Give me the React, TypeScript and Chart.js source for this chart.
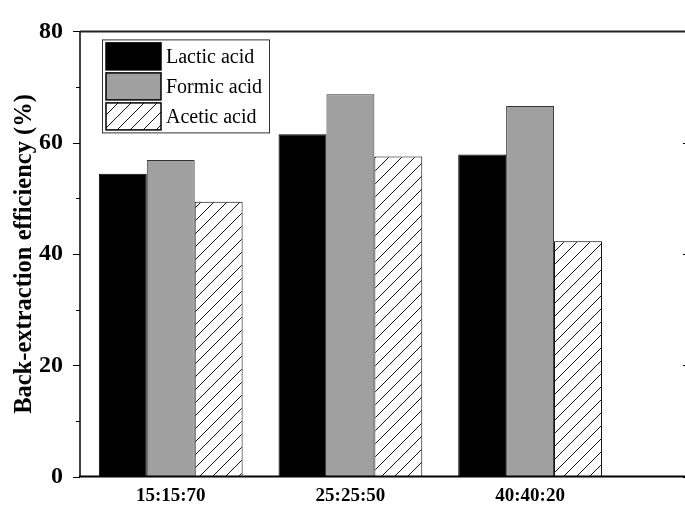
import React, { useEffect, useRef } from "react";
import { Chart, registerables } from "chart.js";

Chart.register(...registerables);

const categories = ["15:15:70", "25:25:50", "40:40:20"];
const categoryPositions = [1, 2, 3];
const seriesNames = ["Lactic acid", "Formic acid", "Acetic acid"];
const lactic = [54.4, 61.5, 57.9];
const formic = [56.9, 68.7, 66.6];
const acetic = [49.4, 57.5, 42.3];
const yMajorTicks = [0, 20, 40, 60, 80];
const yMinorTicks = [10, 30, 50, 70];
const yTitle = "Back-extraction efficiency (%)";

const SERIF = "'Liberation Serif', 'Times New Roman', serif";

function makeHatch(ctx: CanvasRenderingContext2D): CanvasPattern | string {
  const s = 13;
  const c = document.createElement("canvas");
  c.width = s;
  c.height = s;
  const g = c.getContext("2d");
  if (!g) return "#fff";
  g.fillStyle = "#fff";
  g.fillRect(0, 0, s, s);
  g.strokeStyle = "#111";
  g.lineWidth = 1;
  g.beginPath();
  g.moveTo(0, s);
  g.lineTo(s, 0);
  g.moveTo(-2, 2);
  g.lineTo(2, -2);
  g.moveTo(s - 2, s + 2);
  g.lineTo(s + 2, s - 2);
  g.stroke();
  return ctx.createPattern(c, "repeat") || "#fff";
}

const axesPlugin = {
  id: "axesFrame",
  afterDraw(chart: any) {
    const { ctx, chartArea: ca, scales } = chart;
    const y = scales.y;
    ctx.save();
    ctx.strokeStyle = "#000";
    ctx.lineWidth = 1.5;
    ctx.beginPath();
    ctx.moveTo(ca.left, ca.top);
    ctx.lineTo(ca.left, ca.bottom);
    ctx.stroke();
    ctx.beginPath();
    ctx.moveTo(ca.right, ca.top);
    ctx.lineTo(ca.right, ca.bottom);
    ctx.stroke();
    ctx.lineWidth = 1;
    yMajorTicks.forEach((v) => {
      const py = Math.round(y.getPixelForValue(v)) + 0.5;
      ctx.beginPath();
      ctx.moveTo(ca.left - 7, py);
      ctx.lineTo(ca.left, py);
      ctx.moveTo(ca.right - 7, py);
      ctx.lineTo(ca.right, py);
      ctx.stroke();
    });
    yMinorTicks.forEach((v) => {
      const py = Math.round(y.getPixelForValue(v)) + 0.5;
      ctx.beginPath();
      ctx.moveTo(ca.left - 4, py);
      ctx.lineTo(ca.left, py);
      ctx.moveTo(ca.right - 4, py);
      ctx.lineTo(ca.right, py);
      ctx.stroke();
    });
    ctx.strokeStyle = "#222";
    ctx.lineWidth = 2;
    ctx.beginPath();
    ctx.moveTo(ca.left, ca.top);
    ctx.lineTo(ca.right, ca.top);
    ctx.stroke();
    ctx.strokeStyle = "#000";
    ctx.lineWidth = 2;
    ctx.beginPath();
    ctx.moveTo(ca.left - 1, ca.bottom);
    ctx.lineTo(ca.right, ca.bottom);
    ctx.stroke();
    ctx.restore();
  },
};

const legendPlugin = {
  id: "insideLegend",
  afterDraw(chart: any) {
    const { ctx, chartArea: ca } = chart;
    const bx = ca.left + 22.5;
    const by = ca.top + 8.5;
    const bw = 167;
    const bh = 93;
    ctx.save();
    ctx.fillStyle = "#fff";
    ctx.fillRect(bx, by, bw, bh);
    ctx.strokeStyle = "#333";
    ctx.lineWidth = 1;
    ctx.strokeRect(bx, by, bw, bh);
    chart.data.datasets.forEach((ds: any, i: number) => {
      const sx = bx + 3.5;
      const sy = by + 3 + i * 30;
      const sw = 55;
      const sh = 27;
      ctx.fillStyle = ds.backgroundColor;
      ctx.fillRect(sx, sy, sw, sh);
      ctx.strokeStyle = "#000";
      ctx.lineWidth = 1.5;
      ctx.strokeRect(sx, sy, sw, sh);
      ctx.fillStyle = "#000";
      ctx.font = `20px ${SERIF}`;
      ctx.textBaseline = "middle";
      ctx.textAlign = "left";
      ctx.fillText(ds.label, sx + sw + 5, sy + sh / 2 + 1);
    });
    ctx.restore();
  },
};

export default function App() {
  const ref = useRef<HTMLCanvasElement | null>(null);

  useEffect(() => {
    const canvas = ref.current;
    if (!canvas) return;
    const ctx = canvas.getContext("2d");
    if (!ctx) return;
    const hatch = makeHatch(ctx);
    const mk = (vals: number[]) => vals.map((v, i) => ({ x: categoryPositions[i], y: v }));

    const chart = new Chart(canvas, {
      type: "bar",
      data: {
        datasets: [
          {
            label: seriesNames[0],
            data: mk(lactic),
            backgroundColor: "#000000",
            borderColor: "#000000",
            borderWidth: 1,
          },
          {
            label: seriesNames[1],
            data: mk(formic),
            backgroundColor: "#a0a0a0",
            borderColor: "#333333",
            borderWidth: 1,
          },
          {
            label: seriesNames[2],
            data: mk(acetic),
            backgroundColor: hatch as any,
            borderColor: "#000000",
            borderWidth: 1,
          },
        ],
      },
      plugins: [axesPlugin, legendPlugin],
      options: {
        responsive: false,
        animation: false,
        devicePixelRatio: 1,
        layout: { padding: { top: 26, right: 10, left: 0, bottom: 0 } },
        datasets: {
          bar: { categoryPercentage: 0.8, barPercentage: 1 },
        },
        plugins: {
          legend: { display: false },
          tooltip: { enabled: false },
        },
        scales: {
          x: {
            type: "linear",
            min: 0.495,
            max: 3.89,
            offset: false,
            grid: { display: false, drawTicks: false },
            border: { display: false },
            afterBuildTicks: (s: any) => {
              s.ticks = categoryPositions.map((v) => ({ value: v }));
            },
            afterFit: (s: any) => {
              s.height = 28;
            },
            ticks: {
              padding: 8,
              maxRotation: 0,
              autoSkip: false,
              color: "#000",
              font: { family: SERIF, size: 19, weight: "bold" },
              callback: (v: any) => {
                const idx = categoryPositions.indexOf(Number(v));
                return idx >= 0 ? categories[idx] : "";
              },
            },
          },
          y: {
            min: 0,
            max: 80,
            grid: { display: false, drawTicks: false },
            border: { display: false },
            afterFit: (s: any) => {
              s.width = 80;
            },
            ticks: {
              stepSize: 20,
              padding: 17,
              color: "#000",
              font: { family: SERIF, size: 24, weight: "bold" },
            },
            title: {
              display: true,
              text: yTitle,
              color: "#000",
              padding: { top: 10, bottom: 0 },
              font: { family: SERIF, size: 24.5, weight: "bold" },
            },
          },
        },
      } as any,
    });
    return () => chart.destroy();
  }, []);

  return (
    <div
      style={{
        position: "fixed",
        left: 0,
        top: 0,
        width: 685,
        height: 508,
        overflow: "hidden",
        background: "#fff",
      }}
    >
      <canvas ref={ref} width={700} height={508} style={{ display: "block", width: 700, height: 508 }} />
    </div>
  );
}
